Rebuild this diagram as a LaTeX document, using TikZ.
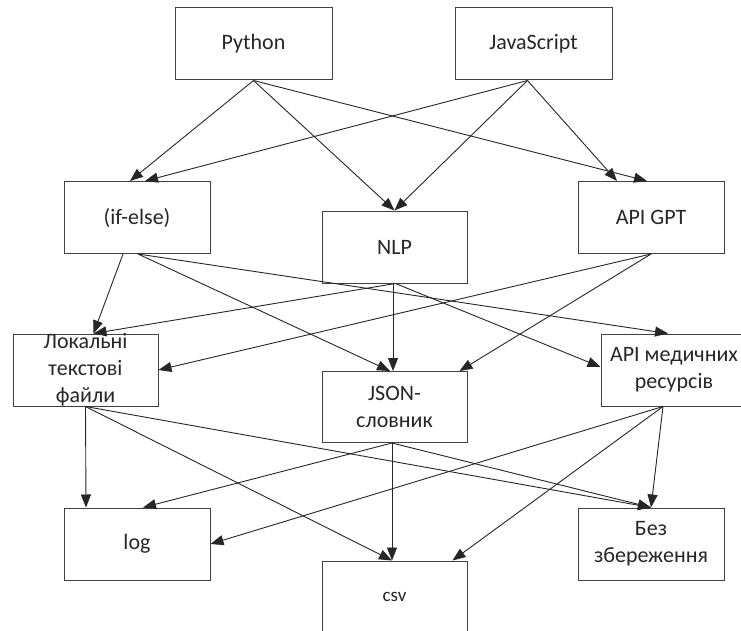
\documentclass[tikz,border=0pt]{standalone}
\usepackage{fontspec}
\setmainfont{Carlito}
\usetikzlibrary{arrows.meta}
\begin{document}
\begin{tikzpicture}[x=1pt,y=-1pt,
  box/.style={draw=black!75, line width=1pt, minimum width=146pt, minimum height=72pt,
    inner sep=0pt, align=center, font=\fontsize{22}{27}\selectfont, text=black!85},
  lbl/.style={align=center, inner sep=0pt, font=\fontsize{22}{27}\selectfont, text=black!85},
  conn/.style={draw=black!85, line width=0.9pt, -{Triangle[length=13pt,width=10pt]}}]
\useasboundingbox (0,0) rectangle (741,631);
\fill[white] (0,0) rectangle (741,631);

\node[box, minimum width=157pt] (py) at (253.5,44) {Python};
\node[box, minimum width=157pt] (js) at (533.5,44) {JavaScript};
\node[box] (ife) at (137,217.5) {(if-else)};
\node[box, minimum width=145pt] (nlp) at (394.5,247) {NLP};
\node[box] (gpt) at (651,217.5) {API GPT};
\node[box, minimum width=145pt, label={[lbl]center:Локальні\\текстові\\файли}] (lok) at (85.5,370) {};
\node[box, minimum width=145pt, minimum height=71pt, label={[lbl]center:JSON-\\словник}] (json) at (394.5,407) {};
\node[box, label={[lbl]center:API медичних\\ресурсів}] (med) at (674,370) {};
\node[box] (log) at (137,544) {log};
\node[box, minimum width=145pt, label={[lbl, font=\fontsize{19}{22}\selectfont]center:csv}] (csv) at (394.5,597) {};
\node[box, label={[lbl]center:Без\\збереження}] (bez) at (651,544) {};

% from Python / JavaScript
\draw[conn] (py.south) -- ([xshift=-7pt]ife.north);
\draw[conn] ([xshift=-6pt]js.south) -- ([xshift=8pt]ife.north);
\draw[conn] (py.south) -- (nlp.north);
\draw[conn] ([xshift=-6pt]js.south) -- (nlp.north);
\draw[conn] (py.south) -- ([xshift=-4pt]gpt.north);
\draw[conn] ([xshift=-6pt]js.south) -- ([xshift=-34pt]gpt.north);

% from (if-else)
\draw[conn] ([xshift=-14pt]ife.south) -- ([xshift=8pt]lok.north);
\draw[conn] ([xshift=1pt]ife.south) -- ([xshift=-4.5pt]json.north);
\draw[conn] ([xshift=1pt]ife.south) -- ([xshift=-6pt]med.north);

% from NLP
\draw[conn] ([xshift=1pt]nlp.south) -- ([xshift=8pt]lok.north);
\draw[conn] ([xshift=-1.5pt]nlp.south) -- ([xshift=-1.5pt]json.north);
\draw[conn] ([xshift=1pt]nlp.south) -- ([yshift=3pt]med.west);

% from API GPT
\draw[conn] (gpt.south) -- (lok.east);
\draw[conn] (gpt.south) -- ([xshift=65pt]json.north);

% from Локальні текстові файли
\draw[conn] (lok.south) -- ([xshift=-51pt]log.north);
\draw[conn] (lok.south) -- ([xshift=-2.5pt]csv.north);
\draw[conn] (lok.south) -- (bez.north);

% from JSON-словник
\draw[conn] ([xshift=-2.5pt]json.south) -- ([xshift=6pt]log.north);
\draw[conn] ([xshift=-2.5pt]json.south) -- ([xshift=-2.5pt]csv.north);
\draw[conn] ([xshift=-2.5pt]json.south) -- (bez.north);

% from API медичних ресурсів
\draw[conn] ([xshift=-11pt]med.south) -- (log.east);
\draw[conn] ([xshift=-11pt]med.south) -- ([xshift=58pt]csv.north);
\draw[conn] ([xshift=-11pt]med.south) -- (bez.north);
\end{tikzpicture}
\end{document}
